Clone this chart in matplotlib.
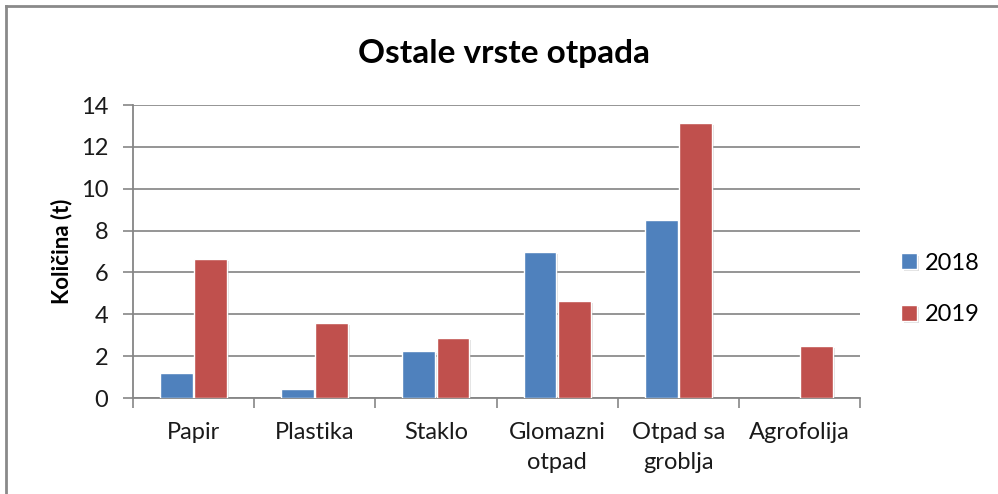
import matplotlib.pyplot as plt
import matplotlib.patheffects as pe
from matplotlib.lines import Line2D
import numpy as np

plt.rcParams['font.family'] = ['Lato', 'DejaVu Sans']

categories = ["Papir", "Plastika", "Staklo", "Glomazni\notpad", "Otpad sa\ngroblja", "Agrofolija"]
years = ["2018", "2019"]
values_2018 = [1.2, 0.45, 2.25, 7.0, 8.5, 0.0]
values_2019 = [6.65, 3.6, 2.85, 4.62, 13.15, 2.5]
colors = ["#4F81BD", "#C0504D"]

fig = plt.figure(figsize=(9.98, 4.94), dpi=100)
ax = fig.add_axes([0.1333, 0.1943, 0.7284, 0.5931])

x = np.arange(len(categories))
w = 0.27
shadow = [pe.SimplePatchShadow(offset=(1.5, -1.5), shadow_rgbFace='grey', alpha=0.25), pe.Normal()]
for i, (vals, col) in enumerate(zip([values_2018, values_2019], colors)):
    bars = ax.bar(x + (i - 0.5) * (w + 0.012), vals, width=w, color=col,
                  edgecolor='white', linewidth=1.0, label=years[i], zorder=3)
    for b in bars:
        if b.get_height() > 0:
            b.set_path_effects(shadow)
        else:
            b.set_visible(False)

ax.set_xlim(-0.5, len(categories) - 0.5)
ax.set_ylim(0, 14)
ax.set_yticks(range(0, 15, 2))
ax.set_xticks(x)
ax.set_xticklabels(categories, fontsize=17, color='#1a1a1a', linespacing=1.55)
ax.tick_params(axis='x', length=0, pad=17)
ax.set_xticks(np.arange(-0.5, len(categories), 1), minor=True)
ax.tick_params(axis='x', which='minor', length=7, color='#868686', width=1.2)
ax.tick_params(axis='y', labelsize=17, labelcolor='#1a1a1a', length=7, color='#868686', width=1.2, pad=11)

ax.grid(axis='y', color='#8c8c8c', linewidth=1.3, zorder=0)
ax.set_axisbelow(True)
for s in ['top', 'right']:
    ax.spines[s].set_visible(False)
for s in ['left', 'bottom']:
    ax.spines[s].set_color('#868686')
    ax.spines[s].set_linewidth(1.3)

ax.set_ylabel("Količina (t)", fontsize=16, fontweight='bold', labelpad=6)

fig.text(0.505, 0.892, "Ostale vrste otpada", ha='center', va='center',
         fontsize=24, fontweight='bold', color='black')

fig.legend(loc='center left', bbox_to_anchor=(0.882, 0.415), frameon=False,
           fontsize=17, handlelength=0.65, handleheight=0.65, handletextpad=0.35,
           labelspacing=1.3)

# chart area border (top and left visible in the reference)
fig.add_artist(Line2D([0.006, 1.0], [0.988, 0.988], color='#8a8a8a', linewidth=2, transform=fig.transFigure))
fig.add_artist(Line2D([0.006, 0.006], [0.0, 0.988], color='#8a8a8a', linewidth=2, transform=fig.transFigure))

fig.savefig("out.png", dpi=100)
